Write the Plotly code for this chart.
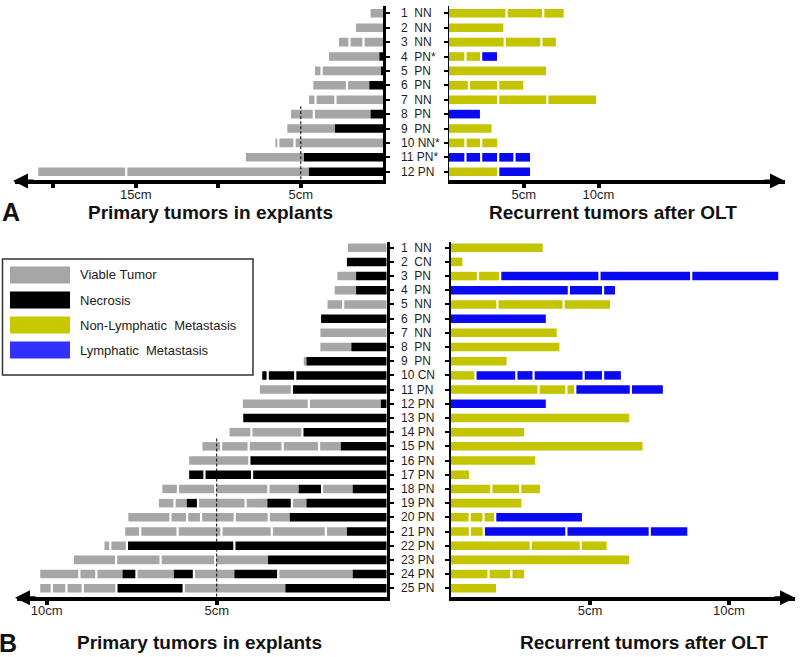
import plotly.graph_objects as go

# ---------------- data (lengths in cm, listed from the axis outward) ----------------
# each row = list of lesions; each lesion = list of (tissue, length_cm)
# V = viable tumor, N = necrosis, Y = non-lymphatic metastasis, B = lymphatic metastasis
A_codes = ["NN", "NN", "NN", "PN*", "PN", "PN", "NN", "PN", "PN", "NN*", "PN*", "PN"]
A_primary = [
    [[("V", 0.77)]],
    [[("V", 1.66)]],
    [[("V", 1.20)], [("V", 0.85)], [("V", 0.64)]],
    [[("N", 0.24), ("V", 3.05)]],
    [[("N", 0.14), ("V", 3.60)], [("V", 0.40)]],
    [[("N", 0.85), ("V", 1.35)], [("V", 2.04)]],
    [[("V", 2.90)], [("V", 1.21)], [("V", 0.39)]],
    [[("N", 0.77), ("V", 3.44)], [("V", 1.38)]],
    [[("N", 2.93), ("V", 2.89)]],
    [[("V", 5.38)], [("V", 0.98)], [("V", 0.18)]],
    [[("N", 4.81), ("V", 3.52)]],
    [[("N", 4.51), ("V", 11.07)], [("V", 5.33)]],
]
A_recurrent = [
    [[("Y", 3.85)], [("Y", 2.45)], [("Y", 1.37)]],
    [[("Y", 3.63)]],
    [[("Y", 3.73)], [("Y", 2.45)], [("Y", 0.97)]],
    [[("Y", 1.10)], [("Y", 1.05)], [("B", 1.06)]],
    [[("Y", 6.49)]],
    [[("Y", 1.33)], [("Y", 1.96)], [("Y", 1.68)]],
    [[("Y", 3.29)], [("Y", 3.29)], [("Y", 3.26)]],
    [[("B", 2.07)]],
    [[("Y", 2.85)]],
    [[("Y", 1.10)], [("Y", 1.05)], [("Y", 1.06)]],
    [[("B", 1.10)], [("B", 1.05)], [("B", 1.14)], [("B", 1.09)], [("B", 1.04)]],
    [[("Y", 3.29)], [("B", 2.13)]],
]

B_codes = ["NN", "CN", "PN", "PN", "NN", "PN", "NN", "PN", "PN", "CN", "PN", "PN", "PN",
           "PN", "PN", "PN", "PN", "PN", "PN", "PN", "PN", "PN", "PN", "PN", "PN"]
B_primary = [
    [[("V", 1.14)]],
    [[("N", 1.17)]],
    [[("N", 0.90), ("V", 0.55)]],
    [[("N", 0.90), ("V", 0.63)]],
    [[("V", 1.28)], [("V", 0.46)]],
    [[("N", 1.93)]],
    [[("V", 1.95)]],
    [[("N", 1.04), ("V", 0.91)]],
    [[("N", 2.36), ("V", 0.08)]],
    [[("N", 2.69)], [("N", 0.81)], [("N", 0.16)]],
    [[("N", 2.79)], [("V", 0.94)]],
    [[("N", 0.17), ("V", 2.12)], [("V", 1.94)]],
    [[("N", 4.22)]],
    [[("N", 2.48)], [("V", 1.50)], [("V", 0.64)]],
    [[("N", 1.35), ("V", 0.64)], [("V", 1.07)], [("V", 1.00)], [("V", 0.81)], [("V", 0.55)]],
    [[("N", 4.04)], [("V", 1.77)]],
    [[("N", 3.96)], [("N", 1.40)], [("N", 0.45)]],
    [[("N", 1.00), ("V", 0.90)], [("N", 0.69), ("V", 0.89)], [("V", 1.56)], [("V", 1.10)], [("V", 0.46)]],
    [[("N", 2.36), ("V", 0.43)], [("N", 0.72), ("V", 0.64)], [("V", 1.40)], [("N", 0.33), ("V", 0.36)], [("V", 0.46)]],
    [[("N", 2.85), ("V", 0.62)], [("V", 1.00)], [("V", 0.99)], [("V", 0.41)], [("V", 0.49)], [("V", 1.24)]],
    [[("N", 1.17), ("V", 0.62)], [("V", 1.59)], [("V", 1.48)], [("V", 1.29)], [("V", 1.10)], [("V", 0.44)]],
    [[("N", 4.48)], [("N", 3.16)], [("V", 0.49)], [("V", 0.17)]],
    [[("N", 3.49), ("V", 1.55)], [("V", 1.61)], [("V", 1.31)], [("V", 1.24)]],
    [[("N", 1.00), ("V", 2.19)], [("N", 1.29), ("V", 1.19)], [("N", 0.59), ("V", 1.10)],
     [("N", 0.41), ("V", 0.77)], [("V", 0.50)], [("V", 1.15)]],
    [[("N", 2.98), ("V", 2.99)], [("N", 1.98)], [("V", 0.99)], [("V", 0.48)], [("V", 0.43)], [("V", 0.34)]],
]
B_recurrent = [
    [[("Y", 3.30)]],
    [[("Y", 0.41)]],
    [[("Y", 0.97)], [("Y", 0.80)], [("B", 3.57)], [("B", 3.30)], [("B", 3.13)]],
    [[("B", 4.24)], [("B", 1.23)], [("B", 0.43)]],
    [[("Y", 1.67)], [("Y", 2.38)], [("Y", 1.67)]],
    [[("B", 3.41)]],
    [[("Y", 3.80)]],
    [[("Y", 3.90)]],
    [[("Y", 2.00)]],
    [[("Y", 0.88)], [("B", 1.47)], [("B", 0.62)], [("B", 1.80)], [("B", 0.70)], [("B", 0.64)]],
    [[("Y", 3.15)], [("Y", 1.00)], [("Y", 0.32)], [("B", 2.00)], [("B", 1.15)]],
    [[("B", 3.41)]],
    [[("Y", 6.41)]],
    [[("Y", 2.63)]],
    [[("Y", 6.89)]],
    [[("Y", 3.02)]],
    [[("Y", 0.65)]],
    [[("Y", 1.45)], [("Y", 1.04)], [("Y", 0.71)]],
    [[("Y", 2.53)]],
    [[("Y", 0.67)], [("Y", 0.50)], [("Y", 0.42)], [("B", 3.12)]],
    [[("Y", 0.68)], [("Y", 0.50)], [("B", 2.97)], [("B", 3.00)], [("B", 1.35)]],
    [[("Y", 2.87)], [("Y", 1.80)], [("Y", 0.93)]],
    [[("Y", 6.41)]],
    [[("Y", 1.35)], [("Y", 0.82)], [("Y", 0.46)]],
    [[("Y", 1.62)]],
]

legend_names = ["Viable Tumor", "Necrosis", "Non-Lymphatic  Metastasis", "Lymphatic  Metastasis"]
legend_keys = ["V", "N", "Y", "B"]

COLORS = {"V": "#A6A6A6", "N": "#000000", "Y": "#C4C400", "B": "#0A0AF0"}
LEGEND_COLORS = {"V": "#A6A6A6", "N": "#000000", "Y": "#C8C800", "B": "#3030FF"}
FONT = "Liberation Sans, Arial, sans-serif"
TXT = "#1e1e1e"

W, H = 800, 657


def px(x):
    return x / W


def py(y):
    return 1 - y / H


fig = go.Figure()


def add_panel(data, xa, ya):
    for t in ["V", "N", "Y", "B"]:
        ys, bases, lens = [], [], []
        for i, row in enumerate(data):
            pos = 0.0
            for lesion in row:
                for typ, ln in lesion:
                    if typ == t:
                        ys.append(i + 1)
                        bases.append(pos)
                        lens.append(ln)
                    pos += ln
        if ys:
            fig.add_trace(go.Bar(y=ys, x=lens, base=bases, orientation="h", width=0.6,
                                 marker=dict(color=COLORS[t], line=dict(width=0)),
                                 xaxis=xa, yaxis=ya, hoverinfo="skip", showlegend=False))
    gx, gy = [], []
    for i, row in enumerate(data):
        pos = 0.0
        for k, lesion in enumerate(row):
            pos += sum(l for _, l in lesion)
            if k < len(row) - 1:
                gx.append(pos)
                gy.append(i + 1)
    fig.add_trace(go.Scatter(x=gx, y=gy, mode="markers", xaxis=xa, yaxis=ya,
                             marker=dict(symbol="line-ns", size=7.5, color="white",
                                         line=dict(color="white", width=2.2)),
                             hoverinfo="skip", showlegend=False))


add_panel(A_primary, "x", "y")
add_panel(A_recurrent, "x2", "y2")
add_panel(B_primary, "x3", "y3")
add_panel(B_recurrent, "x4", "y4")

# ---------- axes ----------
A_top, A_bot = 6, 180
A_r0, A_dr = 13.3, 14.4
B_top, B_bot = 241.7, 596.7
B_r0, B_dr = 247.7, 14.19
A_yrange = [1 + (A_bot - A_r0) / A_dr, 1 + (A_top - A_r0) / A_dr]
B_yrange = [1 + (B_bot - B_r0) / B_dr, 1 + (B_top - B_r0) / B_dr]

xcommon = dict(showline=True, linewidth=4, linecolor="black", ticks="outside", ticklen=4,
               tickwidth=4, tickcolor="black", showgrid=False, zeroline=False,
               ticklabelstandoff=-5,
               tickfont=dict(size=13, color=TXT, family=FONT), fixedrange=True)
ycommon = dict(showline=True, linecolor="black", ticks="outside", ticklen=4, tickwidth=1.5,
               tickcolor="black", showticklabels=False, showgrid=False, zeroline=False,
               fixedrange=True)

fig.update_layout(
    xaxis=dict(domain=[px(15), px(383.3)], range=[(383.3 - 15) / 16.5, 0], anchor="y",
               tickvals=[5, 10, 15, 20], ticktext=["5cm", "", "15cm", ""], **xcommon),
    yaxis=dict(domain=[py(A_bot), py(A_top)], range=A_yrange, anchor="x", side="right",
               linewidth=3, tickvals=list(range(1, len(A_codes) + 1)), **ycommon),
    xaxis2=dict(domain=[px(449), px(785)], range=[0, (785 - 449) / 14.95], anchor="y2",
                tickvals=[5, 10], ticktext=["5cm", "10cm"], **xcommon),
    yaxis2=dict(domain=[py(A_bot), py(A_top)], range=A_yrange, anchor="x2", side="left",
                linewidth=1, tickvals=list(range(1, len(A_codes) + 1)), **ycommon),
    xaxis3=dict(domain=[px(17), px(386.7)], range=[(386.7 - 17) / 34.0, 0], anchor="y3",
                tickvals=[5, 10], ticktext=["5cm", "10cm"], **xcommon),
    yaxis3=dict(domain=[py(B_bot), py(B_top)], range=B_yrange, anchor="x3", side="right",
                linewidth=3, tickvals=list(range(1, len(B_codes) + 1)), **ycommon),
    xaxis4=dict(domain=[px(451), px(795)], range=[0, (795 - 451) / 27.8], anchor="y4",
                tickvals=[5, 10], ticktext=["5cm", "10cm"], **xcommon),
    yaxis4=dict(domain=[py(B_bot), py(B_top)], range=B_yrange, anchor="x4", side="left",
                linewidth=2, tickvals=list(range(1, len(B_codes) + 1)), **ycommon),
    barmode="overlay",
    width=W, height=H,
    margin=dict(l=0, r=0, t=0, b=0),
    paper_bgcolor="white", plot_bgcolor="rgba(0,0,0,0)",
    font=dict(family=FONT, color=TXT),
    showlegend=False,
)

annotations = []
shapes = []

# dashed 5 cm reference lines in the primary panels
for data, xr, yr, yrange in [(A_primary, "x", "y", A_yrange), (B_primary, "x3", "y3", B_yrange)]:
    totals = [sum(l for lesion in row for _, l in lesion) for row in data]
    first = next(i + 1 for i, t in enumerate(totals) if t >= 5)
    shapes.append(dict(type="line", xref=xr, yref=yr, x0=5, x1=5, y0=first - 0.55, y1=yrange[0],
                       line=dict(color="black", width=1, dash="3px,2px"), layer="above"))

# arrow heads on the x axes
for xh, yh, ax in [(13, A_bot, 22), (785, A_bot, -22), (15, B_bot, 22), (795, B_bot, -22)]:
    annotations.append(dict(x=px(xh), y=py(yh + 1), xref="paper", yref="paper", text="",
                            showarrow=True, ax=ax, ay=0, arrowhead=2, arrowsize=1.0,
                            arrowwidth=3, arrowcolor="black"))

# row labels
for codes, yr in [(A_codes, "y2"), (B_codes, "y4")]:
    for i, c in enumerate(codes):
        n = i + 1
        sep = "\u00a0\u00a0" if n < 10 else "\u00a0"
        annotations.append(dict(x=px(399), y=n, xref="paper", yref=yr, text=f"{n}{sep}{c}",
                                showarrow=False, xanchor="left", yanchor="middle",
                                font=dict(size=12, color=TXT, family=FONT)))

# titles & panel letters
for text, x, y in [("Primary tumors in explants", 210, 212), ("Recurrent tumors after OLT", 613, 212),
                   ("Primary tumors in explants", 199, 642), ("Recurrent tumors after OLT", 644, 642)]:
    annotations.append(dict(x=px(x), y=py(y), xref="paper", yref="paper", text=f"<b>{text}</b>",
                            showarrow=False, xanchor="center", yanchor="middle",
                            font=dict(size=19, color="#111", family=FONT)))
for text, x, y in [("A", 11, 212), ("B", 8, 643)]:
    annotations.append(dict(x=px(x), y=py(y), xref="paper", yref="paper", text=f"<b>{text}</b>",
                            showarrow=False, xanchor="center", yanchor="middle",
                            font=dict(size=25, color="#111", family=FONT)))

# legend box
shapes.append(dict(type="rect", xref="paper", yref="paper", x0=px(2.5), x1=px(253), y0=py(259),
                   y1=py(375), line=dict(color="#333", width=1.5), fillcolor="white", layer="above"))
for k, (key, name) in enumerate(zip(legend_keys, legend_names)):
    yc = 275 + k * 25
    shapes.append(dict(type="rect", xref="paper", yref="paper", x0=px(10), x1=px(70),
                       y0=py(yc - 8.5), y1=py(yc + 8.5), line=dict(width=0),
                       fillcolor=LEGEND_COLORS[key], layer="above"))
    annotations.append(dict(x=px(78), y=py(yc), xref="paper", yref="paper",
                            text=name.replace(" ", "\u00a0"), showarrow=False, xanchor="left",
                            yanchor="middle", font=dict(size=13, color="#222", family=FONT)))

fig.update_layout(annotations=annotations, shapes=shapes)
fig.write_html("out.html", config={"displayModeBar": False},
               post_script="document.body.style.margin='0';document.body.style.overflow='hidden';")
